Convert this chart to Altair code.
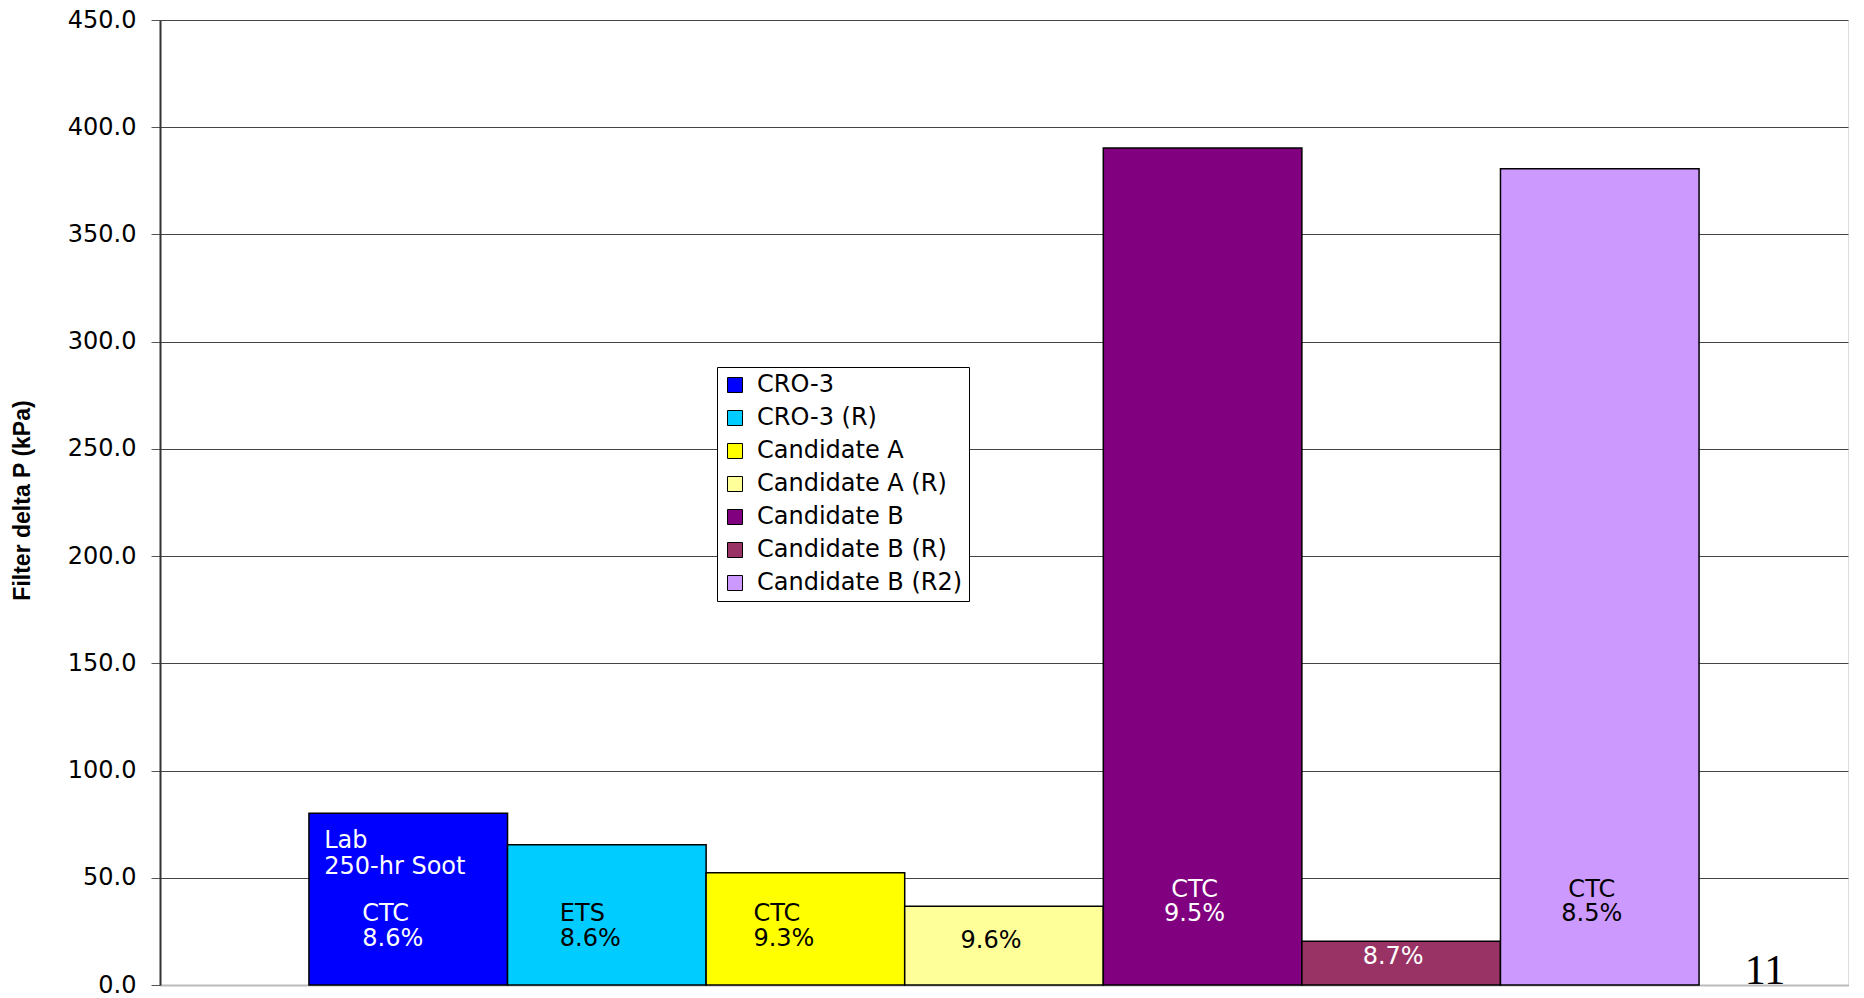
import altair as alt
import pandas as pd

# ---- data ----
series = ["CRO-3", "CRO-3 (R)", "Candidate A", "Candidate A (R)",
          "Candidate B", "Candidate B (R)", "Candidate B (R2)"]
values = [80.1, 65.4, 52.4, 36.7, 390.3, 20.4, 380.6]
colors = ["#0000FF", "#00CCFF", "#FFFF00", "#FFFF99", "#800080", "#993366", "#CC99FF"]
y_ticks = [0, 50, 100, 150, 200, 250, 300, 350, 400, 450]

# in-bar annotations (series, text, height in data units)
ann_series = ["CRO-3", "CRO-3", "CRO-3", "CRO-3", "CRO-3 (R)", "CRO-3 (R)",
              "Candidate A", "Candidate A", "Candidate A (R)", "Candidate B",
              "Candidate B", "Candidate B (R)", "Candidate B (R2)", "Candidate B (R2)"]
ann_text = ["Lab", "250-hr Soot", "CTC", "8.6%", "ETS", "8.6%", "CTC", "9.3%",
            "9.6%", "CTC", "9.5%", "8.7%", "CTC", "8.5%"]
ann_y = [67.2, 55.0, 32.9, 21.3, 32.9, 21.3, 32.9, 21.3, 20.7, 44.5, 32.9, 13.0, 44.5, 32.9]
ann_group = ["lab", "lab", "blue", "blue", "ets", "ets", "ctcA", "ctcA", "c96",
             "mid", "mid", "mid", "mid", "mid"]
white_text_series = ["CRO-3", "Candidate B", "Candidate B (R)"]
page_number = ["11"]

df = pd.DataFrame({"series": series, "value": values})
ann = pd.DataFrame({"series": ann_series, "text": ann_text, "y": ann_y, "group": ann_group})

x_scale = alt.Scale(domain=series, paddingInner=0, paddingOuter=0.75)
y_scale = alt.Scale(domain=[0, 450], nice=False, zero=True)
x_axis = alt.Axis(title=None, labels=False, ticks=False, grid=False,
                  domainColor="#bbbbbb", domainWidth=2)
y_axis = alt.Axis(values=y_ticks, format=".1f", title="Filter delta P (kPa)",
                  grid=True, gridColor="#444444", gridWidth=1,
                  domainColor="#333333", domainWidth=2,
                  tickColor="#555555", tickSize=9, tickWidth=1,
                  labelFont="DejaVu Sans", labelFontSize=24, labelColor="black",
                  labelPadding=15,
                  titleFont="Liberation Sans", titleFontSize=23,
                  titleFontWeight="bold", titleColor="black",
                  titleAngle=270, titleAlign="center", titleBaseline="middle",
                  titleX=-138, titleY=480)

bars = alt.Chart(df).mark_bar(stroke="black", strokeWidth=1.5, opacity=1).encode(
    x=alt.X("series:N", sort=series, scale=x_scale, axis=x_axis),
    y=alt.Y("value:Q", scale=y_scale, axis=y_axis),
    color=alt.Color("series:N", sort=series,
                    scale=alt.Scale(domain=series, range=colors),
                    legend=alt.Legend(
                        title=None, orient="none", legendX=557, legendY=347,
                        fillColor="white", strokeColor="black", padding=6,
                        labelFont="DejaVu Sans", labelFontSize=24, labelColor="black",
                        symbolType="square", symbolSize=225,
                        symbolStrokeColor="black", symbolStrokeWidth=1,
                        symbolOpacity=1, rowPadding=9, labelOffset=10,
                        labelLimit=400)),
)

text_color = alt.condition(
    alt.FieldOneOfPredicate(field="series", oneOf=white_text_series),
    alt.value("white"), alt.value("black"))


def text_layer(group, dx, align):
    return alt.Chart(ann).transform_filter(
        alt.datum.group == group
    ).mark_text(font="DejaVu Sans", fontSize=24, align=align,
                baseline="middle", dx=dx).encode(
        x=alt.X("series:N", sort=series, scale=x_scale, axis=x_axis),
        y=alt.Y("y:Q", scale=y_scale, axis=y_axis),
        text="text:N",
        color=text_color,
    )


layers = [
    bars,
    text_layer("lab", -84, "left"),
    text_layer("blue", -46, "left"),
    text_layer("ets", -47, "left"),
    text_layer("ctcA", -52, "left"),
    text_layer("c96", -13, "center"),
    text_layer("mid", -8, "center"),
]

page = alt.Chart(pd.DataFrame({"t": page_number})).mark_text(
    font="Liberation Serif", fontSize=42, align="center", baseline="alphabetic",
    color="black").encode(
    x=alt.value(1605), y=alt.value(964), text="t:N")

chart = alt.layer(*layers, page).properties(
    width=1688, height=965,
    padding={"left": 152, "top": 12, "right": 4, "bottom": 13},
    autosize=alt.AutoSizeParams(type="none"),
).configure_view(stroke="#999999", strokeWidth=1).configure(background="white")

chart.save("out.html", embed_options={"renderer": "svg", "actions": False})
